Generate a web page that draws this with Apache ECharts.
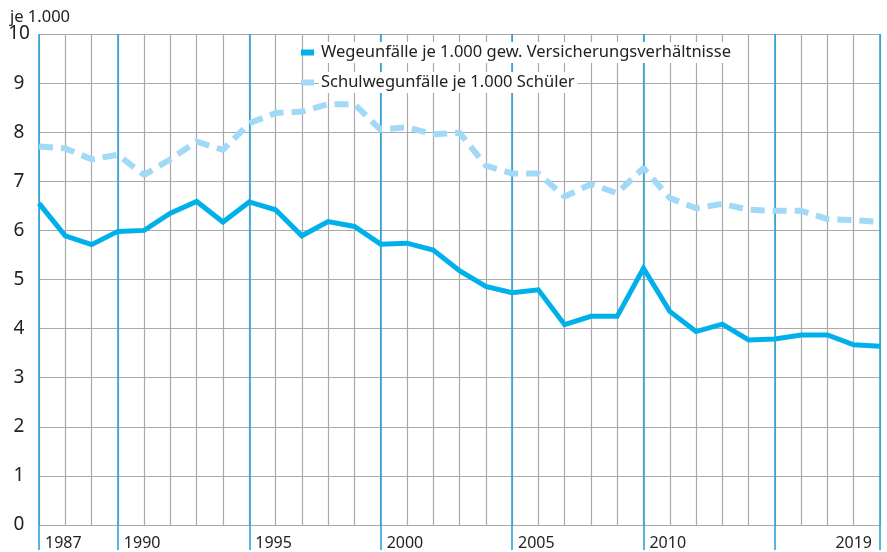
<!DOCTYPE html>
<html>
<head>
<meta charset="utf-8">
<script src="https://cdn.jsdelivr.net/npm/echarts@6/dist/echarts.min.js"></script>
<style>
    html, body { margin: 0; padding: 0; background: #fff; }
    #chart { width: 887px; height: 552px; }
</style>
</head>
<body>
<div id="chart"></div>
<script>
    // Jahre 1987 - 2019
    var years = [];
    for (var y = 1987; y <= 2019; y++) years.push(String(y));

    // Wegeunfälle je 1.000 gew. Versicherungsverhältnisse
    var wegeunfaelle = [6.55, 5.89, 5.71, 5.98, 6.00, 6.35, 6.59, 6.17, 6.58, 6.42,
        5.89, 6.18, 6.08, 5.72, 5.74, 5.60, 5.18, 4.86, 4.73, 4.79,
        4.08, 4.25, 4.25, 5.23, 4.35, 3.94, 4.09, 3.77, 3.79, 3.87,
        3.87, 3.67, 3.64];

    // Schulwegunfälle je 1.000 Schüler
    var schulweg = [7.71, 7.67, 7.45, 7.54, 7.13, 7.45, 7.81, 7.64, 8.18, 8.39,
        8.42, 8.57, 8.57, 8.05, 8.10, 7.96, 7.99, 7.32, 7.16, 7.16,
        6.69, 6.94, 6.76, 7.27, 6.66, 6.45, 6.54, 6.42, 6.40, 6.40,
        6.23, 6.21, 6.17];

    // Jahre mit blauer Linie, davon mit Beschriftung links
    var markedYears = ['1987', '1990', '1995', '2000', '2005', '2010', '2015', '2019'];
    var leftLabels = ['1987', '1990', '1995', '2000', '2005', '2010'];

    var grey = '#aaaaaa';
    var blue = '#1e9fd8';
    var font = 'Noto Sans';

    var chart = echarts.init(document.getElementById('chart'));
    chart.setOption({
        backgroundColor: '#fff',
        animation: false,
        title: {
            text: 'je 1.000',
            left: 5,
            top: 4,
            textStyle: { fontFamily: font, fontSize: 16.5, fontWeight: 'normal', color: '#222' }
        },
        legend: {
            orient: 'vertical',
            left: 296,
            top: 37,
            itemWidth: 13,
            itemHeight: 6,
            itemGap: 9,
            data: [
                { name: 'Wegeunfälle je 1.000 gew. Versicherungsverhältnisse', icon: 'rect' },
                { name: 'Schulwegunfälle je 1.000 Schüler', icon: 'rect' }
            ],
            textStyle: {
                fontFamily: font,
                fontSize: 16.5,
                color: '#222',
                lineHeight: 21,
                backgroundColor: '#fff',
                padding: [0, 3, 0, 2]
            }
        },
        grid: { left: 39, right: 7, top: 34, bottom: 27 },
        xAxis: [{
            type: 'category',
            data: years,
            boundaryGap: false,
            axisLine: { show: true, lineStyle: { color: grey, width: 1.2 } },
            axisTick: { show: false },
            splitLine: { show: true, interval: 0, lineStyle: { color: grey, width: 1.2 } },
            axisLabel: {
                interval: function (i, v) { return v === '2019'; },
                align: 'right',
                padding: [0, 8, 0, 0],
                margin: 10,
                fontFamily: font,
                fontSize: 16,
                color: '#222'
            }
        }, {
            type: 'category',
            data: years,
            boundaryGap: false,
            position: 'bottom',
            axisLine: { show: false },
            axisTick: {
                show: true,
                interval: function (i, v) { return markedYears.indexOf(v) >= 0; },
                length: 25,
                lineStyle: { color: blue, width: 1.5 }
            },
            splitLine: {
                show: true,
                interval: function (i, v) { return markedYears.indexOf(v) >= 0; },
                lineStyle: { color: blue, width: 1.5 }
            },
            axisLabel: {
                interval: function (i, v) { return leftLabels.indexOf(v) >= 0; },
                align: 'left',
                padding: [0, 0, 0, 6],
                margin: 10,
                fontFamily: font,
                fontSize: 16,
                color: '#222'
            }
        }],
        yAxis: {
            type: 'value',
            min: 0,
            max: 10,
            interval: 1,
            axisLine: { show: false },
            axisTick: { show: false },
            splitLine: { lineStyle: { color: grey, width: 1.2 } },
            axisLabel: {
                align: 'center',
                margin: 20,
                fontFamily: font,
                fontSize: 19,
                color: '#222'
            }
        },
        series: [{
            name: 'Wegeunfälle je 1.000 gew. Versicherungsverhältnisse',
            type: 'line',
            data: wegeunfaelle,
            symbol: 'none',
            color: '#00b0ea',
            lineStyle: { width: 5, color: '#00b0ea', join: 'miter' },
            z: 4
        }, {
            name: 'Schulwegunfälle je 1.000 Schüler',
            type: 'line',
            data: schulweg,
            symbol: 'none',
            color: '#a2d9f6',
            lineStyle: { width: 6, color: '#a2d9f6', type: [14, 8] },
            z: 3
        }]
    });
</script>
</body>
</html>
